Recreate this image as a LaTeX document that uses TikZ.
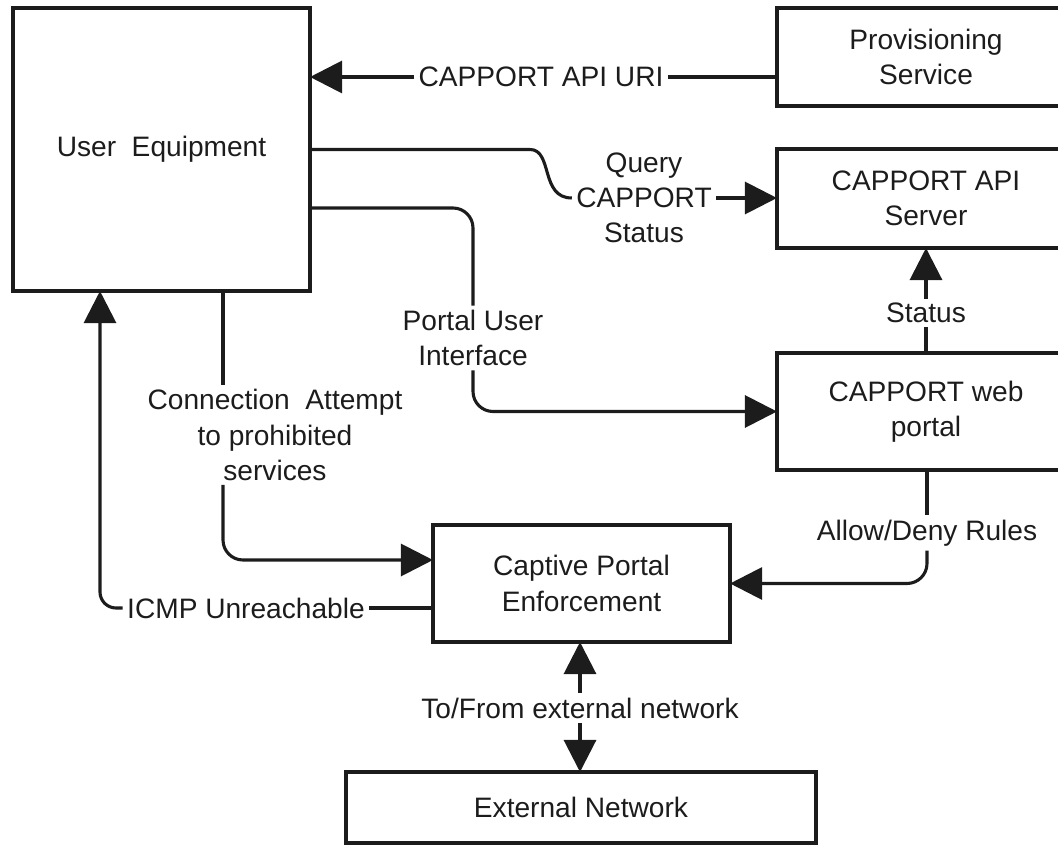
\documentclass[tikz,border=0pt]{standalone}
\usepackage{fontspec}
\setmainfont{Liberation Sans}
\usetikzlibrary{arrows.meta}
\definecolor{inkgray}{RGB}{28,28,28}

\begin{document}
\begin{tikzpicture}[x=0.025cm, y=-0.025cm,
  every node/.style={font=\fontsize{20}{25}\selectfont, text=inkgray, align=center},
  box/.style={draw=inkgray, line width=2.4pt, inner sep=0pt, outer sep=0pt},
  lbl/.style={inner sep=3pt},
  link/.style={draw=inkgray, line width=2.2pt},
  arr/.style={link, -{Triangle[length=0.8cm, width=0.8cm]}}]
\useasboundingbox (0,0) rectangle (1058,846);

% boxes
\node[box, minimum width=7.425cm, minimum height=7.075cm] (ue) at (161.5,149.5) {User\ \ Equipment};
\node[box, minimum width=7.45cm, minimum height=2.45cm] (prov) at (926,57) {Provisioning\\Service};
\node[box, minimum width=7.45cm, minimum height=2.475cm] (api) at (926,198.5) {CAPPORT API\\Server};
\node[box, minimum width=7.45cm, minimum height=2.925cm] (web) at (926,411.5) {CAPPORT web\\portal};
\node[box, minimum width=7.425cm, minimum height=2.925cm] (cpe) at (581.5,583.5) {Captive Portal\\Enforcement};
\node[box, minimum width=11.75cm, minimum height=1.775cm] (ext) at (581,807.5) {External Network};

% labels
\node[lbl] (uri) at (541,77) {CAPPORT API URI};
\node[lbl] (qry) at (644,198) {Query\\CAPPORT\\Status};
\node[lbl] (pui) at (473,338) {Portal User\\Interface};
\node[lbl] (stat) at (926,313) {Status};
\node[lbl] (allow) at (927,533) {Allow/Deny Rules};
\node[lbl] (conn) at (275,435) {Connection\ \ Attempt\\to prohibited\\services};
\node[lbl] (icmp) at (246,608) {ICMP Unreachable};
\node[lbl] (tofrom) at (580,708) {To/From external network};

% connectors
\draw[link] (prov.west |- uri.east) -- (uri.east);
\draw[arr] (uri.west) -- (ue.east |- uri.west);

\draw[link] (ue.east) -- (530,149.5) .. controls (553,149.5) and (540,198) .. (qry.west);
\draw[arr] (qry.east) -- (api.west |- qry.east);

\draw[link, rounded corners=0.5cm] (ue.east |- 0,208) -| (pui.north);
\draw[arr, rounded corners=0.5cm] (pui.south) |- (web.west);

\draw[link] (web.north -| stat) -- (stat.south);
\draw[arr] (stat.north) -- (api.south -| stat);

\draw[link] (web.south -| allow) -- (allow.north);
\draw[arr, rounded corners=0.5cm] (allow.south) |- (cpe.east);

\draw[link] (ue.south -| 223,0) -- (223,0 |- conn.north);
\draw[arr, rounded corners=0.5cm] (223,0 |- conn.south) |- (cpe.west |- 0,560);

\draw[link] (cpe.west |- icmp.east) -- (icmp.east);
\draw[arr, rounded corners=0.4cm] (icmp.west) -| (ue.south -| 100,0);

\draw[arr] (tofrom.north) -- (cpe.south -| tofrom.north);
\draw[arr] (tofrom.south) -- (ext.north -| tofrom.south);
\end{tikzpicture}
\end{document}
